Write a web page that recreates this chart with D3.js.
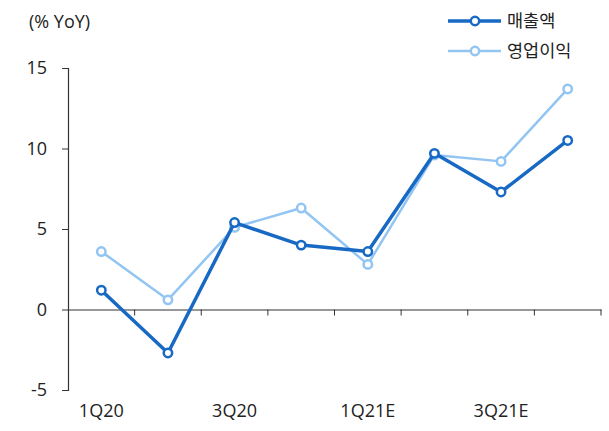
<!DOCTYPE html>
<html>
<head>
<meta charset="utf-8">
<script src="https://cdn.jsdelivr.net/npm/d3@7"></script>
<style>
  body { margin: 0; background: #fff; }
  svg text { font-family: "Open Sans", "Noto Sans CJK KR", sans-serif; fill: #222; }
</style>
</head>
<body>
<svg id="chart" width="609" height="431"></svg>
<script>
const quarters = ["1Q20", "2Q20", "3Q20", "4Q20", "1Q21E", "2Q21E", "3Q21E", "4Q21E"];
const sales = [1.2, -2.7, 5.4, 4.0, 3.6, 9.7, 7.3, 10.5];
const opProfit = [3.6, 0.6, 5.1, 6.3, 2.8, 9.6, 9.2, 13.7];
const yTicks = [-5, 0, 5, 10, 15];
const xLabelShown = ["1Q20", "3Q20", "1Q21E", "3Q21E"];

const series = [
  { name: "매출액", values: sales, color: "#1769c4", width: 3.5 },
  { name: "영업이익", values: opProfit, color: "#92c5f2", width: 2.5 }
];

const svg = d3.select("#chart");
const plotLeft = 68, plotRight = 601, plotTop = 68, plotBottom = 390;
const fontSize = "18px";

const x = d3.scaleBand().domain(quarters).range([plotLeft, plotRight]);
const y = d3.scaleLinear().domain([-5, 15]).range([plotBottom, plotTop]);

// y axis
const yAxis = svg.append("g")
  .attr("transform", `translate(${plotLeft},0)`)
  .call(d3.axisLeft(y).tickValues(yTicks).tickSize(6).tickPadding(15).tickFormat(d => String(d)));

// x axis at zero
const xAxis = svg.append("g")
  .attr("transform", `translate(0,${y(0)})`)
  .call(d3.axisBottom(x).tickSize(0).tickFormat(""));
xAxis.selectAll(".tick").remove();
const bounds = quarters.map(q => x(q)).concat([plotRight]);
xAxis.selectAll(".bt").data(bounds.slice(1)).enter().append("line")
  .attr("class", "bt")
  .attr("x1", d => d).attr("x2", d => d)
  .attr("y1", 0).attr("y2", 6);

[yAxis, xAxis].forEach(g => {
  g.attr("font-family", null).attr("font-size", null);
  g.selectAll("text").style("font-size", fontSize);
  g.select(".domain").attr("stroke", "#333").attr("stroke-width", 1.2);
  g.selectAll("line").attr("stroke", "#333");
});

svg.append("g").selectAll("text")
  .data(xLabelShown).enter().append("text")
  .attr("x", d => x(d) + x.bandwidth() / 2)
  .attr("y", 417)
  .attr("text-anchor", "middle")
  .style("font-size", fontSize)
  .text(d => d);

svg.append("text")
  .attr("x", 29).attr("y", 28)
  .style("font-size", fontSize)
  .text("(% YoY)");

// lines, light series drawn first
const line = d3.line()
  .x((d, i) => x(quarters[i]) + x.bandwidth() / 2)
  .y(d => y(d));

series.slice().reverse().forEach(s => {
  svg.append("path")
    .datum(s.values)
    .attr("fill", "none")
    .attr("stroke", s.color)
    .attr("stroke-width", s.width)
    .attr("stroke-linejoin", "round")
    .attr("d", line);
  svg.append("g").selectAll("circle")
    .data(s.values).enter().append("circle")
    .attr("cx", (d, i) => x(quarters[i]) + x.bandwidth() / 2)
    .attr("cy", d => y(d))
    .attr("r", 4.2)
    .attr("fill", "#fff")
    .attr("stroke", s.color)
    .attr("stroke-width", 2.5);
});

// legend
const legend = svg.append("g");
series.forEach((s, i) => {
  const ly = 21 + i * 30;
  legend.append("line")
    .attr("x1", 448).attr("x2", 501)
    .attr("y1", ly).attr("y2", ly)
    .attr("stroke", s.color).attr("stroke-width", s.width);
  legend.append("circle")
    .attr("cx", 475).attr("cy", ly).attr("r", 4.2)
    .attr("fill", "#fff").attr("stroke", s.color).attr("stroke-width", 2.5);
  legend.append("text")
    .attr("x", 507).attr("y", ly + 6)
    .style("font-size", "17.5px")
    .text(s.name);
});
</script>
</body>
</html>
